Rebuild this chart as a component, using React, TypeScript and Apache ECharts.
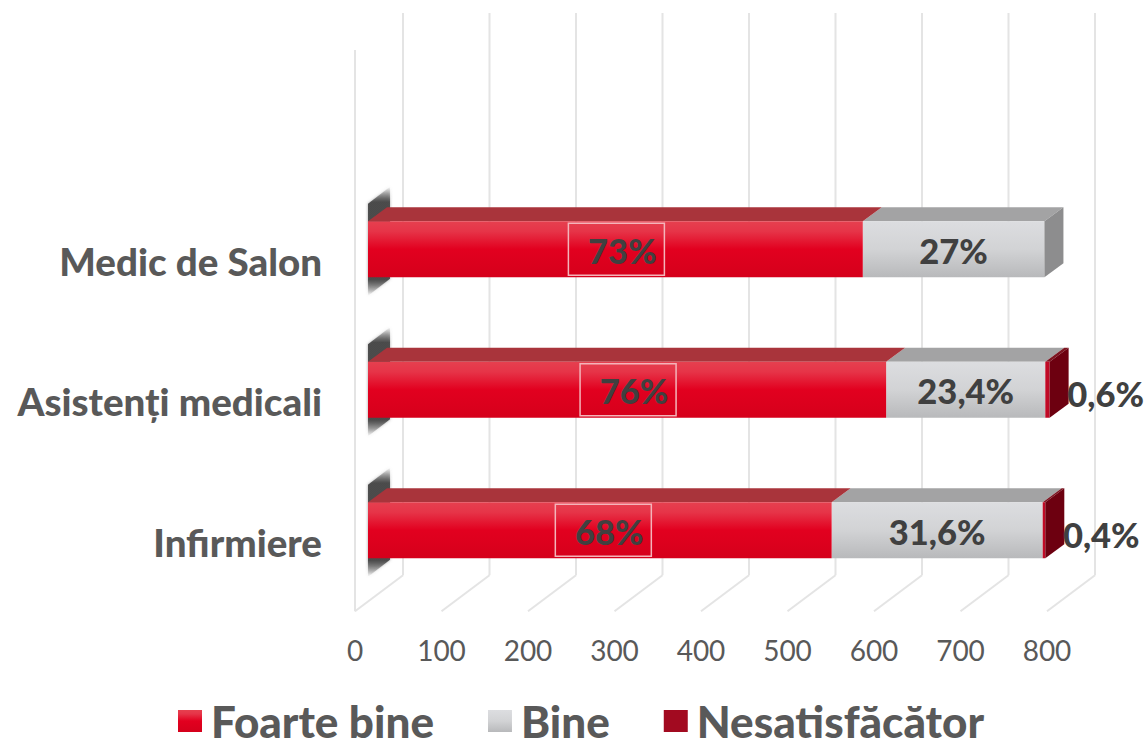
import React, { useEffect, useRef } from "react";
import * as echarts from "echarts";

const categories = ["Infirmiere", "Asistenți medicali", "Medic de Salon"];
const seriesNames = ["Foarte bine", "Bine", "Nesatisfăcător"];
const veryGood = [536, 599, 572];
const good = [244, 184, 210];
const poor = [3, 5, 0];
const veryGoodLabels = ["68%", "76%", "73%"];
const goodLabels = ["31,6%", "23,4%", "27%"];
const poorLabels = ["0,4%", "0,6%", ""];
const xTicks = [0, 100, 200, 300, 400, 500, 600, 700, 800];

const FONT = "Lato";
const TEXT_DARK = "#404040";
const TEXT_GREY = "#595959";
const GRID_COLOR = "#e4e4e4";

const grad = (stops: [number, string][]) =>
  new echarts.graphic.LinearGradient(0, 0, 0, 1, stops.map(([offset, color]) => ({ offset, color })));

const redFill = () => grad([[0, "#e6404f"], [0.18, "#e63448"], [0.5, "#e2001f"], [1, "#d5001b"]]);
const greyFill = () => grad([[0, "#dcdde0"], [0.5, "#d2d3d5"], [1, "#b8b9bb"]]);

function barShapes(api: any, palette: any, isLast: boolean) {
  const i = api.value(1);
  const from = api.coord([api.value(0), i]);
  const to = api.coord([api.value(2), i]);
  const x0 = from[0] + 13;
  const x1 = to[0] + 13;
  const top = from[1] - 39.5;
  const h = 56;
  const dx = 19;
  const dy = 14;
  const kids: any[] = [
    {
      type: "polygon",
      shape: { points: [[x0, top], [x0 + dx, top - dy], [x1 + dx, top - dy], [x1, top]] },
      style: { fill: palette.top },
    },
    { type: "rect", shape: { x: x0, y: top, width: x1 - x0, height: h }, style: { fill: palette.front } },
  ];
  if (isLast) {
    kids.push({
      type: "polygon",
      shape: { points: [[x1, top], [x1 + dx, top - dy], [x1 + dx, top + h - dy], [x1, top + h]] },
      style: { fill: palette.side },
    });
  }
  return { kids, x0, x1, top, h };
}

const text = (t: string, x: number, y: number) => ({
  type: "text",
  x,
  y,
  style: {
    text: t,
    fill: TEXT_DARK,
    fontFamily: FONT,
    fontWeight: 900,
    fontSize: 34.5,
    align: "center",
    verticalAlign: "middle",
  },
});

export default function App() {
  const ref = useRef<HTMLDivElement>(null);
  useEffect(() => {
    document.body.style.margin = "0";
    const chart = echarts.init(ref.current!, null, { renderer: "svg" });

    const gridSeries = {
      type: "custom",
      silent: true,
      clip: false,
      z: 1,
      legendHoverLink: false,
      data: xTicks.map((v) => [v, 0]),
      renderItem: (_p: any, api: any) => {
        const p = api.coord([api.value(0), 0]);
        const x = p[0];
        const y = p[1] + 69.5;
        const line = { stroke: GRID_COLOR, lineWidth: 2 };
        const kids: any[] = [
          { type: "line", shape: { x1: x, y1: y, x2: x + 48, y2: y - 36 }, style: line },
          { type: "line", shape: { x1: x + 48, y1: y - 36, x2: x + 48, y2: 13 }, style: line },
        ];
        if (api.value(0) === 0) {
          kids.push({ type: "line", shape: { x1: x, y1: y, x2: x, y2: 50 }, style: line });
        }
        return { type: "group", children: kids };
      },
      encode: { x: 0, y: 1 },
    };

    const shadowSeries = {
      type: "custom",
      silent: true,
      clip: false,
      z: 2,
      data: categories.map((_c, i) => [0, i]),
      renderItem: (_p: any, api: any) => {
        const p = api.coord([0, api.value(1)]);
        const x = p[0] + 13;
        const y = p[1];
        return {
          type: "polygon",
          shape: {
            points: [[x, y - 57], [x + 22, y - 74], [x + 22, y + 18], [x, y + 35]],
          },
          style: {
            fill: grad([
              [0, "rgba(90,90,90,0)"],
              [0.14, "rgba(70,70,70,0.95)"],
              [0.85, "rgba(70,70,70,0.95)"],
              [1, "rgba(90,90,90,0)"],
            ]),
            shadowBlur: 3,
            shadowColor: "rgba(90,90,90,0.6)",
          },
        };
      },
      encode: { x: 0, y: 1 },
    };

    const redSeries = {
      name: seriesNames[0],
      type: "custom",
      clip: false,
      z: 5,
      itemStyle: { color: "#e2001f" },
      data: veryGood.map((v, i) => [0, i, v]),
      encode: { x: [0, 2], y: 1 },
      renderItem: (p: any, api: any) => {
        const s = barShapes(api, { top: "#a9343b", front: redFill(), side: "#6d0010" }, false);
        const cx = (s.x0 + s.x1) / 2 + (p.dataIndex === 0 ? 3.5 : 1);
        const box = {
          type: "rect",
          shape: { x: cx - 48, y: s.top + 2, width: 96, height: 52 },
          style: { fill: "none", stroke: "#f4b4ba", lineWidth: 1.5 },
        };
        return {
          type: "group",
          children: [...s.kids, box, text(veryGoodLabels[p.dataIndex], cx + 6, s.top + 29)],
        };
      },
    };

    const greySeries = {
      name: seriesNames[1],
      type: "custom",
      clip: false,
      z: 4,
      itemStyle: { color: "#d2d3d5" },
      data: good.map((v, i) => [veryGood[i], i, veryGood[i] + v]),
      encode: { x: [0, 2], y: 1 },
      renderItem: (p: any, api: any) => {
        const isLast = poor[p.dataIndex] === 0;
        const s = barShapes(api, { top: "#a3a3a4", front: greyFill(), side: "#8d8d8e" }, isLast);
        return {
          type: "group",
          children: [...s.kids, text(goodLabels[p.dataIndex], (s.x0 + s.x1) / 2, s.top + 29)],
        };
      },
    };

    const poorSeries = {
      name: seriesNames[2],
      type: "custom",
      clip: false,
      z: 6,
      itemStyle: { color: "#a20a20" },
      data: poor.map((v, i) => [veryGood[i] + good[i], i, veryGood[i] + good[i] + v]),
      encode: { x: [0, 2], y: 1 },
      renderItem: (p: any, api: any) => {
        if (poor[p.dataIndex] === 0) return { type: "group", children: [] };
        const s = barShapes(api, { top: "#7c1420", front: "#c00a26", side: "#6d0010" }, true);
        return {
          type: "group",
          children: [...s.kids, text(poorLabels[p.dataIndex], s.x1 + 56, s.top + 32)],
        };
      },
    };

    chart.setOption({
      animation: false,
      backgroundColor: "#ffffff",
      grid: { left: 355, top: 190.5, width: 692, height: 421.5, containLabel: false },
      xAxis: {
        type: "value",
        min: 0,
        max: 800,
        interval: 100,
        axisLine: { show: false },
        axisTick: { show: false },
        splitLine: { show: false },
        axisLabel: { color: TEXT_GREY, fontFamily: FONT, fontSize: 28, margin: 24 },
      },
      yAxis: {
        type: "category",
        data: categories,
        axisLine: { show: false },
        axisTick: { show: false },
        splitLine: { show: false },
        axisLabel: { color: TEXT_GREY, fontFamily: FONT, fontWeight: 900, fontSize: 38.5, margin: 33 },
      },
      legend: {
        left: 178,
        top: 699,
        padding: 0,
        itemWidth: 24,
        itemHeight: 22,
        itemGap: 54,
        selectedMode: false,
        textStyle: {
          color: TEXT_GREY,
          fontFamily: FONT,
          fontWeight: 900,
          fontSize: 44,
          lineHeight: 36,
          padding: [0, 0, 0, 4],
        },
        data: [
          { name: seriesNames[0], icon: "rect", itemStyle: { color: redFill() } },
          { name: seriesNames[1], icon: "rect", itemStyle: { color: greyFill() } },
          { name: seriesNames[2], icon: "rect", itemStyle: { color: "#a20a20" } },
        ],
      },
      series: [gridSeries, shadowSeries, greySeries, redSeries, poorSeries],
    });
    return () => chart.dispose();
  }, []);
  return <div ref={ref} style={{ width: 1147, height: 741 }} />;
}
